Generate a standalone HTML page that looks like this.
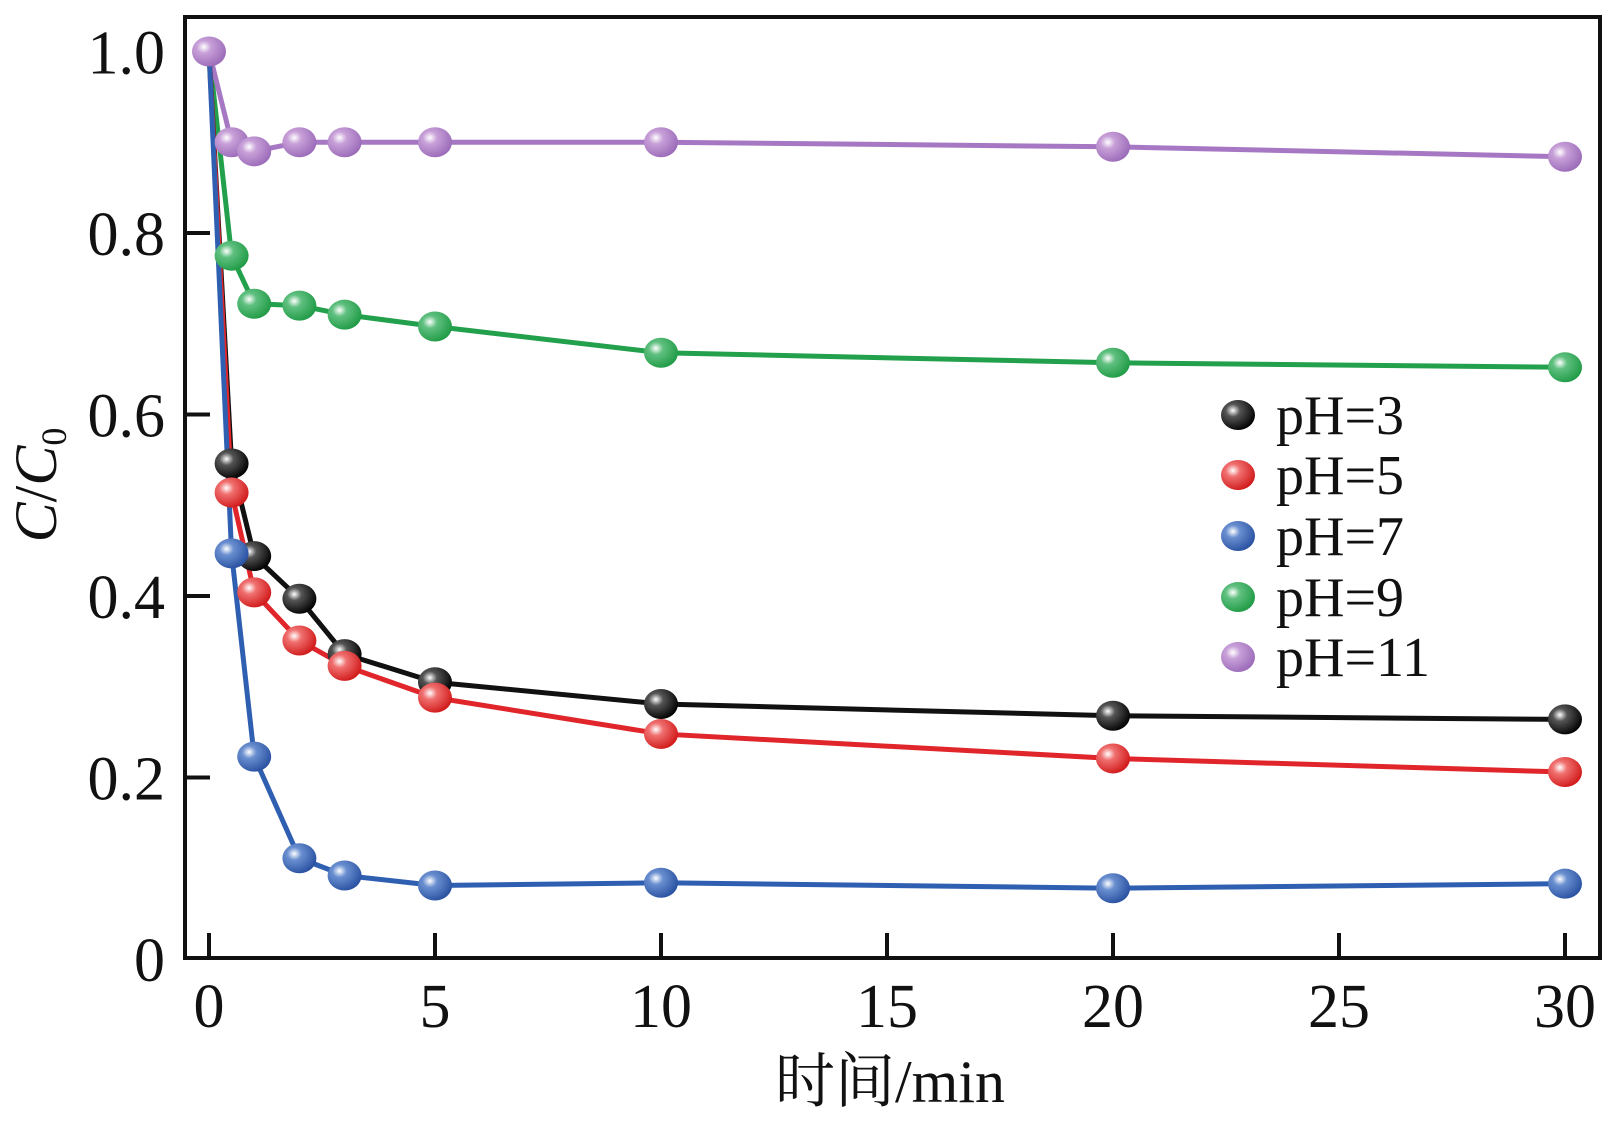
<!DOCTYPE html>
<html><head><meta charset="utf-8"><style>
html,body{margin:0;padding:0;background:#fff}
svg{display:block}
text{font-family:"Liberation Serif","Noto Serif CJK SC",serif;fill:#111}
</style></head><body>
<svg id="chart" width="1617" height="1123" viewBox="0 0 1617 1123" xmlns="http://www.w3.org/2000/svg">
<defs>
<radialGradient id="gk" cx="0.35" cy="0.35" r="0.7"><stop offset="0" stop-color="#fff"/><stop offset="0.3" stop-color="#555"/><stop offset="1" stop-color="#000"/></radialGradient>
<radialGradient id="gr" cx="0.35" cy="0.35" r="0.7"><stop offset="0" stop-color="#fff"/><stop offset="0.3" stop-color="#f07070"/><stop offset="1" stop-color="#d01818"/></radialGradient>
<radialGradient id="gb" cx="0.35" cy="0.35" r="0.7"><stop offset="0" stop-color="#fff"/><stop offset="0.3" stop-color="#6a8fd0"/><stop offset="1" stop-color="#2850a0"/></radialGradient>
<radialGradient id="gg" cx="0.35" cy="0.35" r="0.7"><stop offset="0" stop-color="#fff"/><stop offset="0.3" stop-color="#60c080"/><stop offset="1" stop-color="#1f9a45"/></radialGradient>
<radialGradient id="gp" cx="0.35" cy="0.35" r="0.7"><stop offset="0" stop-color="#fff"/><stop offset="0.3" stop-color="#c8a0d8"/><stop offset="1" stop-color="#9a6ab8"/></radialGradient>
</defs>
<g id="plot"></g>
</svg>
<script>
const times=[0,0.5,1,2,3,5,10,20,30];
const ph3=[1.0,0.546,0.444,0.397,0.336,0.305,0.281,0.268,0.264];
const ph5=[1.0,0.514,0.404,0.351,0.323,0.288,0.248,0.221,0.206];
const ph7=[1.0,0.447,0.223,0.111,0.092,0.081,0.084,0.078,0.083];
const ph9=[1.0,0.775,0.722,0.72,0.71,0.697,0.668,0.657,0.652];
const ph11=[1.0,0.90,0.89,0.90,0.90,0.90,0.90,0.895,0.884];
const seriesNames=["pH=3","pH=5","pH=7","pH=9","pH=11"];
const xTicks=[0,5,10,15,20,25,30];
const yTicks=[0,0.2,0.4,0.6,0.8,1.0];
const yTickLabels=["0","0.2","0.4","0.6","0.8","1.0"];

const L=185,R=1600,T=17,B=958;
const sx=v=>209+v*45.2;
const sy=v=>959-v*907.5;
const NS="http://www.w3.org/2000/svg";
const g=document.getElementById('plot');
function mk(tag,attrs,parent){const e=document.createElementNS(NS,tag);for(const k in attrs)e.setAttribute(k,attrs[k]);(parent||g).appendChild(e);return e;}

const fr=mk('rect',{x:L,y:T,width:R-L,height:B-T,fill:'none',stroke:'#111','stroke-width':4});



xTicks.forEach(v=>{
  const t=mk('line',{x1:sx(v),x2:sx(v),y1:B,y2:B-25,stroke:'#111','stroke-width':4});
  
  
  const l=mk('text',{x:sx(v),y:1027,'text-anchor':'middle','font-size':62});
  l.textContent=v;
  
  
});
yTicks.forEach((v,i)=>{
  if(v>0&&v<1){
    const t=mk('line',{x1:L,x2:L+25,y1:sy(v),y2:sy(v),stroke:'#111','stroke-width':4});
    
    
  }
  const l=mk('text',{x:165,y:sy(v)+22,'text-anchor':'end','font-size':62});
  l.textContent=yTickLabels[i];
  
  
});

const xt=mk('text',{x:890,y:1102,'text-anchor':'middle','font-size':60});
xt.textContent='时间/min';


const yt=mk('text',{x:0,y:0,'text-anchor':'middle','font-size':60,transform:'translate(56,485) rotate(-90)'});
yt.innerHTML='<tspan font-style="italic">C</tspan>/<tspan font-style="italic">C</tspan><tspan font-size="36" dy="10">0</tspan>';



const all=[ph3,ph5,ph7,ph9,ph11];
const cols=['#111','#e0262b','#2f5fb0','#22a04c','#a678c4'];
const grads=['gk','gr','gb','gg','gp'];
const order=[3,4,0,1,2];
order.forEach(si=>{
  const d=all[si];
  const pts=times.map((t,i)=>sx(t)+','+sy(d[i])).join(' ');
  const pl=mk('polyline',{points:pts,fill:'none',stroke:cols[si],'stroke-width':5,'stroke-linejoin':'round'});
  
  
});
order.forEach(si=>{
  const d=all[si];
  times.forEach((t,i)=>{
    if(i===0&&si!==4)return;
    const c=mk('ellipse',{cx:sx(t),cy:sy(d[i]),rx:17,ry:15,fill:'url(#'+grads[si]+')'});
    
    
  });
});

const ly=[415,475,536,597,657];
seriesNames.forEach((n,i)=>{
  const c=mk('ellipse',{cx:1238,cy:ly[i],rx:17,ry:15,fill:'url(#'+grads[i]+')'});
  
  
  const t=mk('text',{x:1276,y:ly[i]+19,'font-size':56});
  t.textContent=n;
  
  
});
</script>
</body></html>
